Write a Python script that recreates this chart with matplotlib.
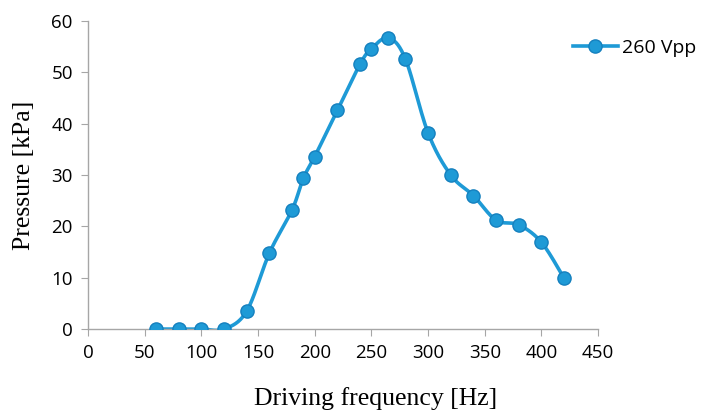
import numpy as np
import matplotlib
matplotlib.use("Agg")
import matplotlib.pyplot as plt

# data
freq = [60, 80, 100, 120, 140, 160, 180, 190, 200, 220, 240, 250, 265, 280,
        300, 320, 340, 360, 380, 400, 420]
pressure = [0, 0, 0, 0, 3.5, 14.8, 23.2, 29.4, 33.6, 42.6, 51.6, 54.6, 56.7,
            52.6, 38.2, 30.0, 26.0, 21.2, 20.3, 16.9, 9.9]
series_name = "260 Vpp"
xticks = [0, 50, 100, 150, 200, 250, 300, 350, 400, 450]
yticks = [0, 10, 20, 30, 40, 50, 60]

line_col = '#1E9AD6'
edge_col = '#1580BE'


def smooth_curve(x, y, n=30):
    # excel-like smoothed line: cubic bezier with catmull-rom style handles
    x = np.asarray(x, float)
    y = np.asarray(y, float)
    px = np.concatenate([[x[0]], x, [x[-1]]])
    py = np.concatenate([[y[0]], y, [y[-1]]])
    xs, ys = [], []
    t = np.linspace(0, 1, n)
    for i in range(1, len(px) - 2):
        p0 = np.array([px[i], py[i]])
        p3 = np.array([px[i + 1], py[i + 1]])
        c1 = p0 + (p3 - np.array([px[i - 1], py[i - 1]])) / 6.0
        c2 = p3 - (np.array([px[i + 2], py[i + 2]]) - p0) / 6.0
        b = ((1 - t) ** 3)[:, None] * p0 + (3 * (1 - t) ** 2 * t)[:, None] * c1 \
            + (3 * (1 - t) * t ** 2)[:, None] * c2 + (t ** 3)[:, None] * p3
        xs.append(b[:, 0])
        ys.append(b[:, 1])
    return np.concatenate(xs), np.concatenate(ys)


fig = plt.figure(figsize=(7.02, 4.16), dpi=100)
ax = fig.add_axes([0.1254, 0.209, 0.7266, 0.7405])

sx, sy = smooth_curve(freq, pressure)
ax.plot(sx, sy, color=line_col, lw=2.6, solid_capstyle='round', zorder=2)
ax.plot(freq, pressure, ls='none', marker='o', ms=9.5, mfc=line_col,
        mec=edge_col, mew=1.0, zorder=3)

# legend proxy
ax.plot([], [], color=line_col, lw=2.6, marker='o', ms=9.5, mfc=line_col,
        mec=edge_col, mew=1.0, label=series_name)
leg = ax.legend(loc='upper left', bbox_to_anchor=(0.805, 0.925),
                bbox_transform=fig.transFigure, frameon=False,
                prop={'family': 'Open Sans', 'size': 14},
                handlelength=2.3, handletextpad=0.25, borderaxespad=0)

ax.set_xlim(0, 450)
ax.set_ylim(0, 60)
ax.set_xticks(xticks)
ax.set_yticks(yticks)
for s in ['top', 'right']:
    ax.spines[s].set_visible(False)
for s in ['left', 'bottom']:
    ax.spines[s].set_color('#A6A6A6')
    ax.spines[s].set_linewidth(1.0)
ax.tick_params(axis='both', direction='out', length=5, color='#A6A6A6',
               labelsize=13.5, pad=6)
for lab in ax.get_xticklabels() + ax.get_yticklabels():
    lab.set_family('Open Sans')

ax.set_xlabel('Driving frequency [Hz]', family='Liberation Serif', size=18.5)
ax.xaxis.set_label_coords(0.563, -0.188)
ax.set_ylabel('Pressure [kPa]', family='Liberation Serif', size=18.5,
              labelpad=12)
ax.set_clip_on(False)

fig.savefig('out.png', dpi=100)
